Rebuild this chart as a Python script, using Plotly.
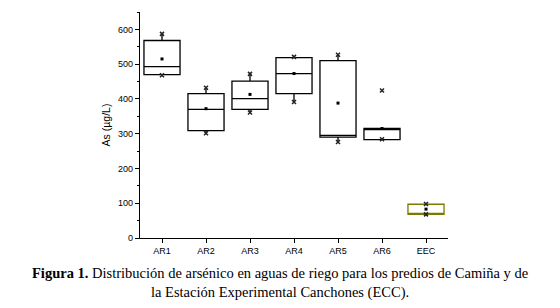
import plotly.graph_objects as go

categories = ["AR1", "AR2", "AR3", "AR4", "AR5", "AR6", "EEC"]
q1 = [470, 309, 370, 415, 290, 283, 68]
median = [493, 370, 401, 473, 295, 315, 68]
q3 = [568, 415, 451, 519, 510, 315, 97]
lower_whisker = [470, 302, 361, 391, 276, 283, 68]
upper_whisker = [587, 432, 472, 521, 527, 315, 97]
means = [515, 372, 413, 473, 388, 315, 83]
mins = [468, 301, 361, 391, 276, 284, 68]
maxs = [587, 432, 472, 521, 527, 424, 98]
box_colors = ["#000000"] * 6 + ["#7a7a00"]

y_ticks = [0, 100, 200, 300, 400, 500, 600]

fig = go.Figure()
for i, c in enumerate(categories):
    fig.add_trace(go.Box(
        x=[c], q1=[q1[i]], median=[median[i]], q3=[q3[i]],
        lowerfence=[lower_whisker[i]], upperfence=[upper_whisker[i]],
        boxpoints=False, width=0.82, whiskerwidth=0,
        line=dict(color=box_colors[i], width=1.3),
        fillcolor="rgba(255,255,255,0)", showlegend=False, hoverinfo="skip"))

fig.add_trace(go.Scatter(x=categories, y=means, mode="markers",
                         marker=dict(symbol="square", size=3, color="black"),
                         showlegend=False))
fig.add_trace(go.Scatter(x=categories + categories, y=mins + maxs, mode="markers",
                         marker=dict(symbol="x-thin-open", size=4, color="#222222",
                                     line=dict(color="#222222", width=1.5)),
                         showlegend=False))

fig.update_layout(
    width=560, height=308,
    margin=dict(l=132, r=120, t=4, b=78),
    plot_bgcolor="white", paper_bgcolor="white",
    font=dict(family="Liberation Sans, Arial", size=9, color="black"),
    xaxis=dict(type="category", range=[-0.5, 6.5], showgrid=False,
               showline=True, linecolor="black", linewidth=1.3,
               ticks="outside", ticklen=4, tickcolor="black", tickwidth=1.2,
               tickfont=dict(size=9), zeroline=False),
    yaxis=dict(range=[0, 650], showgrid=False, zeroline=False,
               showline=True, linecolor="black", linewidth=1.3,
               tickvals=y_ticks, ticks="outside", ticklen=4, tickcolor="black",
               tickwidth=1.2, tickfont=dict(size=9),
               minor=dict(tickvals=[50, 150, 250, 350, 450, 550, 650],
                          ticks="outside", ticklen=2, tickcolor="black"),
               title=dict(text="As (µg/L)", font=dict(size=10.5), standoff=5)),
)

cx = (280 - 140) / 308
fig.add_annotation(xref="paper", yref="paper", x=cx, y=(238 - 273) / 226,
                   xanchor="center", yanchor="middle", showarrow=False,
                   text="<b>Figura 1.</b> Distribución de arsénico en aguas de riego para los predios de Camiña y de",
                   font=dict(family="Liberation Serif, Times New Roman", size=14.5, color="black"))
fig.add_annotation(xref="paper", yref="paper", x=cx, y=(238 - 292) / 226,
                   xanchor="center", yanchor="middle", showarrow=False,
                   text="la Estación Experimental Canchones (ECC).",
                   font=dict(family="Liberation Serif, Times New Roman", size=14.5, color="black"))

fig.write_html("out.html")
